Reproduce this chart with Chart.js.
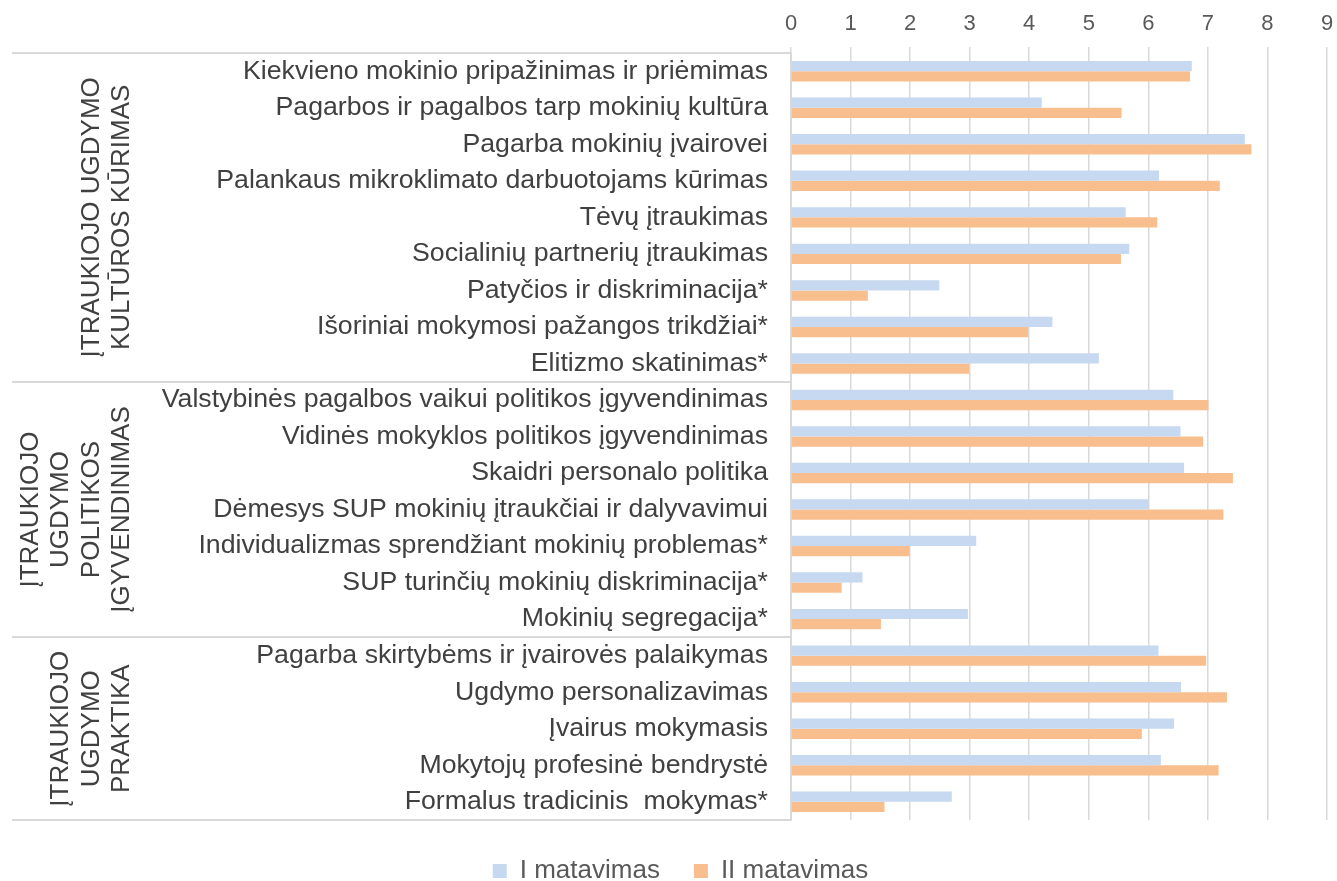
<!DOCTYPE html>
<html>
<head>
<meta charset="utf-8">
<script src="https://cdn.jsdelivr.net/npm/chart.js@4.4.1/dist/chart.umd.min.js"></script>
<style>
  html, body { margin: 0; padding: 0; background: #fff; }
  #wrap { width: 1337px; height: 881px; }
</style>
</head>
<body>
<div id="wrap"><canvas id="chart" width="1337" height="881"></canvas></div>
<script>
// kategorijos (iš viršaus į apačią)
const categories = [
  'Kiekvieno mokinio pripažinimas ir priėmimas',
  'Pagarbos ir pagalbos tarp mokinių kultūra',
  'Pagarba mokinių įvairovei',
  'Palankaus mikroklimato darbuotojams kūrimas',
  'Tėvų įtraukimas',
  'Socialinių partnerių įtraukimas',
  'Patyčios ir diskriminacija*',
  'Išoriniai mokymosi pažangos trikdžiai*',
  'Elitizmo skatinimas*',
  'Valstybinės pagalbos vaikui politikos įgyvendinimas',
  'Vidinės mokyklos politikos įgyvendinimas',
  'Skaidri personalo politika',
  'Dėmesys SUP mokinių įtraukčiai ir dalyvavimui',
  'Individualizmas sprendžiant mokinių problemas*',
  'SUP turinčių mokinių diskriminacija*',
  'Mokinių segregacija*',
  'Pagarba skirtybėms ir įvairovės palaikymas',
  'Ugdymo personalizavimas',
  'Įvairus mokymasis',
  'Mokytojų profesinė bendrystė',
  'Formalus tradicinis  mokymas*'
];

const matavimas1 = [6.73, 4.21, 7.62, 6.18, 5.62, 5.68, 2.49, 4.39, 5.17,
                    6.42, 6.54, 6.60, 6.00, 3.11, 1.20, 2.97,
                    6.17, 6.55, 6.43, 6.21, 2.70];
const matavimas2 = [6.70, 5.55, 7.73, 7.20, 6.15, 5.54, 1.29, 3.98, 2.99,
                    7.01, 6.92, 7.42, 7.26, 1.99, 0.85, 1.51,
                    6.97, 7.32, 5.89, 7.18, 1.57];

const seriesNames = ['I matavimas', 'II matavimas'];
const xTicks = [0, 1, 2, 3, 4, 5, 6, 7, 8, 9];

// grupės: pradžios ir pabaigos indeksai
const groupNames = [
  ['ĮTRAUKIOJO UGDYMO', 'KULTŪROS KŪRIMAS'],
  ['ĮTRAUKIOJO', 'UGDYMO', 'POLITIKOS', 'ĮGYVENDINIMAS'],
  ['ĮTRAUKIOJO', 'UGDYMO', 'PRAKTIKA']
];
const groupStart = [0, 9, 16];
const groupEnd = [8, 15, 20];

const FONT = 'Liberation Sans, Arial, sans-serif';
const PAD_LEFT = 34;

// grupių pavadinimai ir skiriamosios linijos
const groupPlugin = {
  id: 'groups',
  afterDraw(chart) {
    const ctx = chart.ctx;
    const y = chart.scales.y;
    const left = 12;
    const right = chart.chartArea.left;
    ctx.save();
    ctx.strokeStyle = '#d9d9d9';
    ctx.lineWidth = 2;
    const bounds = [groupStart[0] - 0.5].concat(groupEnd.map(e => e + 0.5));
    bounds.forEach(b => {
      const py = Math.round(y.getPixelForValue(b));
      ctx.beginPath();
      ctx.moveTo(left, py);
      ctx.lineTo(right, py);
      ctx.stroke();
    });
    ctx.fillStyle = '#404040';
    ctx.font = '26px ' + FONT;
    ctx.textAlign = 'center';
    ctx.textBaseline = 'middle';
    groupNames.forEach((lines, g) => {
      const top = y.getPixelForValue(groupStart[g] - 0.5);
      const bot = y.getPixelForValue(groupEnd[g] + 0.5);
      const cy = (top + bot) / 2;
      const lineH = 30.5;
      const lastX = 122;
      lines.forEach((txt, i) => {
        const cx = lastX - (lines.length - 1 - i) * lineH;
        ctx.save();
        ctx.translate(cx, cy);
        ctx.rotate(-Math.PI / 2);
        ctx.fillText(txt, 0, 0);
        ctx.restore();
      });
    });
    ctx.restore();
  }
};

const context = document.getElementById('chart').getContext('2d');
const chart = new Chart(context, {
  type: 'bar',
  data: {
    labels: categories,
    datasets: [
      {
        label: seriesNames[0],
        data: matavimas1,
        backgroundColor: 'rgb(198, 217, 240)',
        categoryPercentage: 0.56,
        barPercentage: 1.0
      },
      {
        label: seriesNames[1],
        data: matavimas2,
        backgroundColor: 'rgb(248, 190, 142)',
        categoryPercentage: 0.56,
        barPercentage: 1.0
      }
    ]
  },
  options: {
    indexAxis: 'y',
    responsive: false,
    animation: false,
    layout: { padding: { left: PAD_LEFT, right: 10, top: 0, bottom: -13 } },
    plugins: {
      legend: {
        position: 'bottom',
        labels: {
          boxWidth: 14,
          boxHeight: 14,
          padding: 34,
          color: '#595959',
          font: { family: FONT, size: 26 }
        }
      },
      tooltip: { enabled: false }
    },
    scales: {
      x: {
        position: 'top',
        min: 0,
        max: 9,
        afterBuildTicks(scale) {
          scale.ticks = xTicks.map(v => ({ value: v }));
        },
        afterFit(scale) {
          scale.height = 53;
          scale.paddingLeft = 0;
          scale.paddingRight = 0;
        },
        grid: { color: '#d9d9d9', lineWidth: 1.5, tickLength: 6 },
        border: { display: false },
        ticks: {
          padding: 10,
          color: '#595959',
          font: { family: FONT, size: 22 }
        }
      },
      xb: {
        type: 'linear',
        position: 'bottom',
        afterFit(scale) {
          scale.height = 4;
          scale.paddingLeft = 0;
          scale.paddingRight = 0;
        },
        grid: { display: false },
        border: { display: false },
        ticks: { display: false }
      },
      y: {
        afterFit(scale) { scale.width = 791 - PAD_LEFT; },
        grid: { display: false },
        border: { display: true, color: '#d9d9d9', width: 2 },
        ticks: {
          padding: 15,
          autoSkip: false,
          color: '#404040',
          font: { family: FONT, size: 26.7 }
        }
      }
    }
  },
  plugins: [groupPlugin]
});
</script>
</body>
</html>
